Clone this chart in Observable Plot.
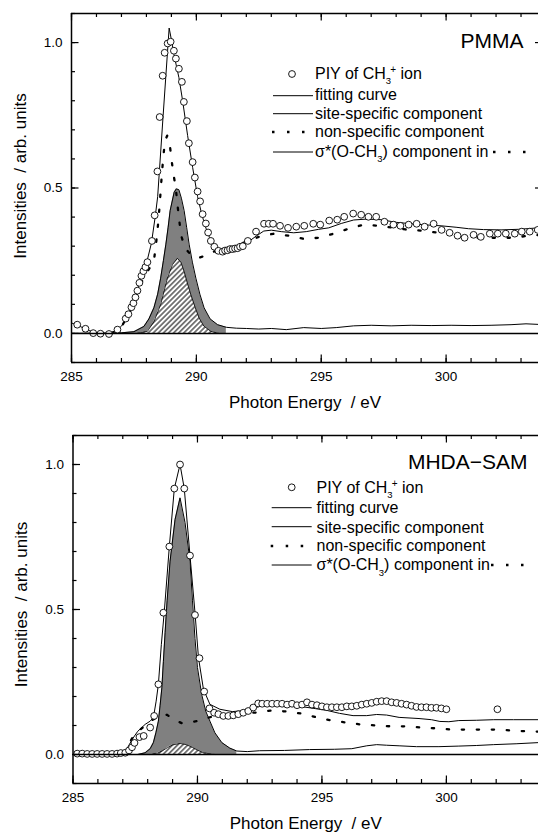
<!DOCTYPE html>
<html><head><meta charset="utf-8">
<script src="https://cdn.jsdelivr.net/npm/d3@7"></script>
<script src="https://cdn.jsdelivr.net/npm/@observablehq/plot@0.6"></script>
<style>
html,body{margin:0;padding:0;background:#fff;}
#chart{width:538px;height:832px;position:relative;overflow:hidden;background:#fff;}
#chart svg{display:block;}
</style></head><body><div id="chart"></div>
<script>
// ---------- ticks & labels ----------
const xTicksMajor = [285, 290, 295, 300];
const xTicksMinor = [285,286,287,288,289,290,291,292,293,294,295,296,297,298,299,300,301,302,303];
const yTicksMajor = [0, 0.5, 1.0];
const yTicksMinor = [-0.1,0,0.1,0.2,0.3,0.4,0.5,0.6,0.7,0.8,0.9,1.0,1.1];
const rightTicksPMMA = [0.5, 1.0];
const xLabel = "Photon Energy  / eV";
const yLabel = "Intensities  / arb. units";
const titles = ["PMMA", "MHDA\u2212SAM"];
const legendLabels = ["PIY of CH", "fitting curve", "site-specific component", "non-specific component", "\u03c3*(O-CH"];
const grayFillEnd = [291.2, 291.6]; // end of the shaded site-specific peak (eV)

// ---------- PMMA ----------
const pmmaPiyE = [285.23,285.56,285.87,286.16,286.50,286.84,287.17,287.28,287.40,287.48,287.56,287.64,287.72,287.80,287.88,287.96,288.04,288.22,288.33,288.44,288.53,288.65,288.73,288.85,288.97,289.10,289.18,289.30,289.42,289.50,289.62,289.70,289.85,289.94,290.05,290.15,290.25,290.38,290.47,290.58,290.72,290.88,291.05,291.15,291.25,291.35,291.45,291.55,291.65,291.75,291.86,292.06,292.39,292.71,292.90,293.07,293.35,293.67,294.00,294.32,294.68,294.96,295.32,295.64,295.92,296.28,296.60,296.89,297.20,297.53,297.89,298.17,298.50,298.82,299.14,299.50,299.82,300.14,300.46,300.74,301.10,301.39,301.75,302.07,302.39,302.75,303.03,303.35,303.67];
const pmmaPiyI = [0.030,0.016,0.001,-0.001,-0.002,0.013,0.051,0.066,0.090,0.104,0.124,0.147,0.174,0.198,0.214,0.228,0.245,0.318,0.406,0.557,0.744,0.886,0.965,0.997,1.003,0.972,0.945,0.910,0.865,0.796,0.730,0.654,0.589,0.536,0.488,0.454,0.410,0.378,0.347,0.318,0.298,0.284,0.281,0.285,0.286,0.290,0.290,0.292,0.293,0.298,0.300,0.318,0.350,0.377,0.377,0.377,0.370,0.363,0.367,0.370,0.377,0.374,0.388,0.391,0.401,0.412,0.408,0.401,0.401,0.384,0.374,0.370,0.374,0.377,0.367,0.377,0.356,0.346,0.336,0.329,0.339,0.332,0.343,0.343,0.343,0.343,0.350,0.350,0.356];
const pmmaFitE = [285.0,285.3,285.6,285.9,286.2,286.5,286.8,287.0,287.2,287.4,287.6,287.8,288.0,288.2,288.35,288.45,288.67,288.91,289.0,289.1,289.3,289.45,289.65,289.85,290.05,290.2,290.35,290.5,290.7,290.9,291.1,291.3,291.6,292.0,292.4,292.7,293.0,293.4,293.9,294.4,294.9,295.3,295.8,296.3,296.8,297.4,298.0,298.6,299.2,299.8,300.4,300.9,301.5,302.2,302.9,303.7];
const pmmaFitI = [0.036,0.026,0.013,0.004,0.0,0.0,0.010,0.025,0.050,0.090,0.140,0.195,0.240,0.310,0.400,0.470,0.750,1.050,1.010,0.960,0.880,0.800,0.680,0.571,0.470,0.415,0.370,0.335,0.305,0.288,0.283,0.286,0.292,0.310,0.335,0.352,0.355,0.350,0.346,0.350,0.358,0.363,0.378,0.390,0.393,0.391,0.382,0.377,0.373,0.370,0.365,0.360,0.357,0.356,0.358,0.363];
const pmmaNonE = [286.6,287.0,287.4,287.8,287.97,288.15,288.3,288.37,288.44,288.52,288.57,288.62,288.68,288.74,288.83,288.93,289.0,289.08,289.18,289.24,289.31,289.38,289.48,289.58,289.8,290.1,290.4,290.72,291.0,291.32,291.7,292.07,292.5,293.1,293.7,294.3,294.9,295.5,296.1,296.7,297.3,297.9,298.5,299.1,299.7,300.3,300.9,301.5,302.1,302.7,303.3,303.7];
const pmmaNonI = [0.0,0.022,0.085,0.175,0.204,0.228,0.249,0.298,0.350,0.430,0.490,0.550,0.610,0.660,0.680,0.655,0.600,0.550,0.497,0.445,0.393,0.341,0.310,0.290,0.268,0.260,0.268,0.282,0.288,0.292,0.305,0.318,0.332,0.343,0.336,0.325,0.329,0.343,0.360,0.374,0.370,0.363,0.356,0.353,0.346,0.343,0.329,0.329,0.329,0.329,0.336,0.338];
const pmmaSiteE = [285.0,287.0,287.5,287.9,288.1,288.3,288.45,288.57,288.68,288.78,288.87,288.95,289.11,289.2,289.3,289.4,289.51,289.61,289.71,289.84,289.98,290.14,290.31,290.55,290.85,291.2,291.6,292.0,292.5,293.0,293.6,294.3,295.0,295.6,296.3,297.0,297.8,298.6,299.4,300.2,301.0,301.8,302.6,303.2,303.7];
const pmmaSiteI = [0.0,0.002,0.006,0.024,0.050,0.088,0.135,0.190,0.250,0.307,0.365,0.422,0.485,0.497,0.494,0.465,0.422,0.365,0.307,0.245,0.190,0.135,0.088,0.050,0.030,0.021,0.018,0.017,0.015,0.017,0.013,0.020,0.017,0.020,0.026,0.028,0.026,0.028,0.027,0.028,0.027,0.028,0.030,0.033,0.031];
const pmmaSigE = [287.6,288.04,288.3,288.57,288.84,289.04,289.24,289.38,289.51,289.65,289.78,289.95,290.11,290.3,290.58,290.9];
const pmmaSigI = [0.0,0.007,0.040,0.099,0.190,0.236,0.258,0.245,0.213,0.170,0.133,0.090,0.053,0.025,0.007,0.0];

// ---------- MHDA-SAM ----------
const mhdaPiyE = [285.17,285.37,285.57,285.77,285.97,286.17,286.37,286.57,286.77,286.92,287.10,287.25,287.37,287.47,287.67,287.84,288.10,288.26,288.43,288.63,288.87,289.07,289.30,289.47,289.70,289.90,290.08,290.27,290.48,290.67,290.84,291.04,291.24,291.44,291.64,291.84,292.04,292.24,292.44,292.6,292.8,293.0,293.2,293.4,293.6,293.8,294.0,294.2,294.4,294.6,294.8,295.0,295.2,295.4,295.6,295.8,296.0,296.2,296.4,296.6,296.8,297.0,297.2,297.4,297.6,297.8,298.0,298.2,298.4,298.6,298.8,299.0,299.2,299.4,299.6,299.8,300.0,302.05];
const mhdaPiyI = [0.003,0.003,0.002,0.002,0.002,0.002,0.002,0.002,0.003,0.005,0.006,0.014,0.025,0.040,0.060,0.064,0.093,0.133,0.242,0.489,0.717,0.917,1.000,0.917,0.686,0.481,0.332,0.217,0.159,0.144,0.139,0.133,0.133,0.135,0.139,0.144,0.150,0.162,0.176,0.175,0.175,0.175,0.175,0.175,0.172,0.175,0.170,0.172,0.180,0.172,0.170,0.166,0.163,0.163,0.163,0.163,0.166,0.166,0.168,0.172,0.175,0.178,0.182,0.184,0.184,0.180,0.178,0.175,0.172,0.168,0.164,0.163,0.163,0.161,0.161,0.159,0.156,0.156];
const mhdaFitE = [285.0,286.0,286.8,287.0,287.2,287.4,287.6,287.9,288.1,288.23,288.34,288.43,288.55,288.67,288.87,289.07,289.3,289.47,289.7,289.9,290.04,290.24,290.5,290.9,291.4,291.7,292.1,292.5,292.8,293.6,294.1,294.6,295.2,295.7,296.25,296.8,297.2,297.6,298.1,298.9,299.4,299.74,300.1,300.5,301.2,301.9,302.7,303.7];
const mhdaFitI = [0.0,0.0,0.002,0.006,0.025,0.055,0.080,0.104,0.115,0.127,0.184,0.242,0.380,0.495,0.717,0.917,1.000,0.917,0.686,0.490,0.334,0.225,0.173,0.156,0.148,0.150,0.156,0.166,0.169,0.169,0.166,0.160,0.152,0.142,0.134,0.134,0.138,0.136,0.128,0.124,0.120,0.114,0.113,0.117,0.118,0.120,0.120,0.120];
const mhdaNonE = [287.0,287.2,287.4,287.63,287.9,288.2,288.5,288.77,289.07,289.37,289.67,289.97,290.27,290.57,291.18,291.78,292.38,293.0,293.6,294.2,294.8,295.4,296.0,296.6,297.2,297.8,298.4,299.0,299.6,300.2,300.8,301.4,302.0,302.6,303.2,303.7];
const mhdaNonI = [0.006,0.030,0.060,0.081,0.100,0.120,0.133,0.137,0.120,0.108,0.110,0.115,0.123,0.130,0.135,0.141,0.145,0.152,0.148,0.141,0.128,0.117,0.110,0.103,0.100,0.097,0.097,0.093,0.090,0.086,0.086,0.086,0.086,0.083,0.080,0.079];
const mhdaSiteE = [285.0,287.6,287.9,288.1,288.23,288.33,288.43,288.5,288.57,288.63,288.7,288.78,288.9,289.1,289.3,289.5,289.7,289.8,289.9,290.0,290.17,290.33,290.5,290.7,290.98,291.3,291.58,292.0,292.5,293.5,294.5,295.5,296.2,296.8,297.2,297.6,298.1,298.8,299.7,300.5,301.2,301.9,302.8,303.7];
const mhdaSiteI = [0.0,0.0,0.006,0.020,0.041,0.075,0.115,0.170,0.230,0.320,0.420,0.530,0.667,0.810,0.885,0.800,0.667,0.530,0.400,0.300,0.207,0.150,0.115,0.075,0.041,0.022,0.012,0.010,0.013,0.014,0.017,0.018,0.020,0.030,0.034,0.032,0.030,0.027,0.027,0.029,0.031,0.034,0.037,0.041];
const mhdaSigE = [288.1,288.4,288.6,288.8,289.0,289.3,289.55,289.8,290.0,290.2,290.5,290.7];
const mhdaSigI = [0.0,0.005,0.013,0.024,0.033,0.038,0.034,0.024,0.015,0.007,0.002,0.0];

// ---------- drawing ----------
const FONT = "'Liberation Sans', Arial, Helvetica, sans-serif";
const W = 538, H = 416;

function addHatch(svg, id) {
  const ns = "http://www.w3.org/2000/svg";
  const defs = document.createElementNS(ns, "defs");
  const pat = document.createElementNS(ns, "pattern");
  const s = 3.6;
  pat.setAttribute("id", id);
  pat.setAttribute("patternUnits", "userSpaceOnUse");
  pat.setAttribute("width", s);
  pat.setAttribute("height", s);
  pat.setAttribute("patternTransform", "rotate(45)");
  const rect = document.createElementNS(ns, "rect");
  rect.setAttribute("width", s); rect.setAttribute("height", s); rect.setAttribute("fill", "white");
  const ln = document.createElementNS(ns, "line");
  ln.setAttribute("x1", s/2); ln.setAttribute("x2", s/2);
  ln.setAttribute("y1", -1); ln.setAttribute("y2", s + 1);
  ln.setAttribute("stroke", "black"); ln.setAttribute("stroke-width", 1);
  pat.appendChild(rect); pat.appendChild(ln); defs.appendChild(pat);
  svg.insertBefore(defs, svg.firstChild);
}

function drawLegend(svg, L) {
  const g = d3.select(svg).append("g")
    .attr("font-family", FONT).attr("font-size", 16).attr("fill", "black")
    .attr("text-anchor", "start");
  g.append("circle").attr("cx", L.cx).attr("cy", L.cy).attr("r", 3.4)
    .attr("fill", "white").attr("stroke", "black").attr("stroke-width", 0.9);
  // row 0: PIY of CH3+ ion
  const t0 = g.append("text").attr("x", L.tx).attr("y", L.base[0]);
  t0.append("tspan").text(legendLabels[0]);
  t0.append("tspan").attr("font-size", 9.5).attr("dy", 5.5).text("3");
  t0.append("tspan").attr("font-size", 10).attr("dx", -1).attr("dy", -11.5).text("+");
  t0.append("tspan").attr("dy", 6).text(" ion");
  // rows 1-3
  for (let i = 1; i <= 3; i++) {
    g.append("text").attr("x", L.tx).attr("y", L.base[i]).text(legendLabels[i]);
  }
  // row 4
  const t4 = g.append("text").attr("x", L.tx).attr("y", L.base[4]);
  t4.append("tspan").text(legendLabels[4]);
  t4.append("tspan").attr("font-size", 9.5).attr("dy", 5.5).text("3");
  t4.append("tspan").attr("dy", -5.5).text(") component in");
  // samples
  const solid = (y) => g.append("line").attr("x1", L.lx1).attr("x2", L.lx2).attr("y1", y).attr("y2", y)
      .attr("stroke", "black").attr("stroke-width", 1);
  solid(L.ly[1]); solid(L.ly[2]); solid(L.ly[4]);
  const dots = (x1, x2, y) => g.append("line").attr("x1", x1).attr("x2", x2).attr("y1", y).attr("y2", y)
      .attr("stroke", "black").attr("stroke-width", 2.3).attr("stroke-dasharray", "2.5,12.5");
  dots(L.lx1 - 1, L.lx1 + 34, L.ly[3]);
  dots(L.trail, L.trail + 34, L.ly[4]);
}

function panel(o) {
  const plotW = W - o.ml, plotH = H - o.mt - o.mb;
  const inPeak = o.siteE.map(e => e <= o.fillEnd);
  const marks = [
    Plot.areaY(o.siteE, {x: o.siteE, y: o.siteI, filter: inPeak, fill: "#808080"}),
    Plot.areaY(o.sigE, {x: o.sigE, y: o.sigI, fill: `url(#${o.hatch})`}),
    Plot.line(o.siteE, {x: o.siteE, y: o.siteI, stroke: "black", strokeWidth: 1}),
    Plot.line(o.sigE, {x: o.sigE, y: o.sigI, stroke: "black", strokeWidth: 0.8}),
    Plot.line(o.fitE, {x: o.fitE, y: o.fitI, stroke: "black", strokeWidth: 1}),
    Plot.line(o.nonE, {x: o.nonE, y: o.nonI, stroke: "black", strokeWidth: 2.3, strokeDasharray: "2.3,12.7"}),
    Plot.dot(o.piyE, {x: o.piyE, y: o.piyI, r: 3.4, stroke: "black", fill: "white", strokeWidth: 0.9}),
    Plot.ruleY([0], {stroke: "black", strokeWidth: 1.5}),
    // ticks (inside)
    Plot.ruleX(xTicksMinor, {insetTop: plotH - 4, strokeWidth: 1.2}),
    Plot.ruleX(xTicksMajor, {insetTop: plotH - 7.5, strokeWidth: 1.2}),
    Plot.ruleX(xTicksMinor, {insetBottom: plotH - 4, strokeWidth: 1.2}),
    Plot.ruleX(xTicksMajor, {insetBottom: plotH - 7.5, strokeWidth: 1.2}),
    Plot.ruleY(yTicksMinor, {insetRight: plotW - 4, strokeWidth: 1.2}),
    Plot.ruleY(yTicksMajor, {insetRight: plotW - 7.5, strokeWidth: 1.2}),
    // frame lines
    Plot.ruleX([285], {strokeWidth: 1.5}),
    Plot.ruleY([-0.1], {strokeWidth: 1.5}),
    Plot.ruleY([1.1], {strokeWidth: 1.5}),
    Plot.axisX({ticks: xTicksMajor, tickSize: 0, tickPadding: 9, fontSize: 13.5, label: null}),
    Plot.axisY({ticks: yTicksMajor, tickSize: 0, tickPadding: 9, fontSize: 13.5, tickFormat: d3.format(".1f"), label: null}),
    Plot.text([xLabel], {text: d => d, frameAnchor: "bottom", dy: o.xlabDy, lineAnchor: "middle", textAnchor: "middle", fontSize: 17}),
    Plot.text([yLabel], {text: d => d, frameAnchor: "left", rotate: -90, dx: -51, dy: o.ylabDy, lineAnchor: "middle", textAnchor: "middle", fontSize: 17}),
    Plot.text([o.title], {text: d => d, frameAnchor: "top-right", dx: o.titleDx, dy: o.titleDy, lineAnchor: "middle", textAnchor: "end", fontSize: 21})
  ];
  if (o.rightTicks) marks.push(Plot.ruleY(o.rightTicks, {insetLeft: plotW - 3, strokeWidth: 1.2}));
  const svg = Plot.plot({
    width: W, height: H,
    marginLeft: o.ml, marginRight: 0, marginTop: o.mt, marginBottom: o.mb,
    style: {fontFamily: FONT, fontSize: "13.5px", background: "white", color: "black"},
    x: {domain: [285, 303.7], axis: null},
    y: {domain: [-0.1, 1.1], axis: null},
    marks
  });
  addHatch(svg, o.hatch);
  drawLegend(svg, o.legend);
  return svg;
}

const chart = document.getElementById("chart");
chart.appendChild(panel({
  ml: 71, mt: 13, mb: 54, hatch: "hatchTop", fillEnd: grayFillEnd[0],
  siteE: pmmaSiteE, siteI: pmmaSiteI, sigE: pmmaSigE, sigI: pmmaSigI,
  fitE: pmmaFitE, fitI: pmmaFitI, nonE: pmmaNonE, nonI: pmmaNonI,
  piyE: pmmaPiyE, piyI: pmmaPiyI, title: titles[0],
  xlabDy: 40, ylabDy: -12, titleDx: -15, titleDy: 27.3, rightTicks: rightTicksPMMA,
  legend: {cx: 292, cy: 74, tx: 315, lx1: 273, lx2: 313, trail: 493,
           base: [78.5, 100, 118.5, 137, 156.5], ly: [0, 95.7, 113.7, 132, 152]}
}));
chart.appendChild(panel({
  ml: 72.5, mt: 19, mb: 49, hatch: "hatchBottom", fillEnd: grayFillEnd[1],
  siteE: mhdaSiteE, siteI: mhdaSiteI, sigE: mhdaSigE, sigI: mhdaSigI,
  fitE: mhdaFitE, fitI: mhdaFitI, nonE: mhdaNonE, nonI: mhdaNonI,
  piyE: mhdaPiyE, piyI: mhdaPiyI, title: titles[1],
  xlabDy: 40, ylabDy: -5, titleDx: -11, titleDy: 26.3, rightTicks: null,
  legend: {cx: 291.7, cy: 71.3, tx: 316.5, lx1: 271.7, lx2: 311.7, trail: 491,
           base: [76.7, 97.3, 116.7, 135, 154], ly: [0, 91.7, 110.7, 130, 149]}
}));
</script></body></html>
